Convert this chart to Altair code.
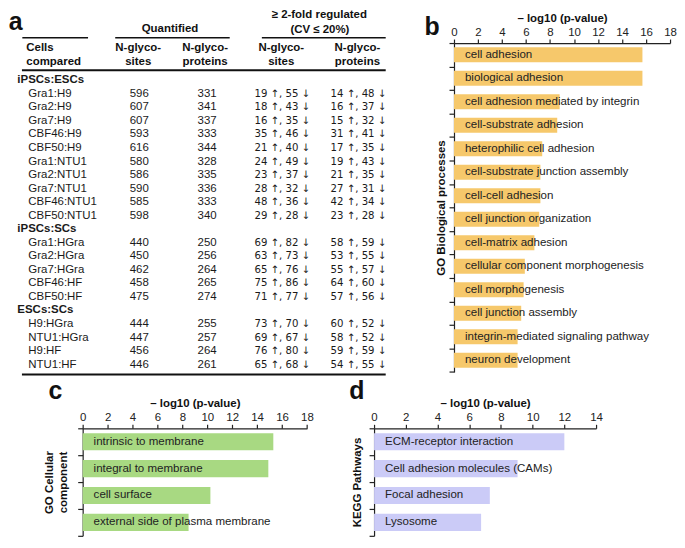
import altair as alt
import pandas as pd

FONT = "Liberation Sans"
TXT = "#1a1a1a"

# ---------------- Panel a: table ----------------
groups = ["iPSCs:ESCs", "iPSCs:SCs", "ESCs:SCs"]
group_sizes = [10, 5, 4]
pairs = ["Gra1:H9", "Gra2:H9", "Gra7:H9", "CBF46:H9", "CBF50:H9",
         "Gra1:NTU1", "Gra2:NTU1", "Gra7:NTU1", "CBF46:NTU1", "CBF50:NTU1",
         "Gra1:HGra", "Gra2:HGra", "Gra7:HGra", "CBF46:HF", "CBF50:HF",
         "H9:HGra", "NTU1:HGra", "H9:HF", "NTU1:HF"]
sites = [596, 607, 607, 593, 616, 580, 586, 590, 585, 598,
         440, 450, 462, 458, 475, 444, 447, 456, 446]
proteins = [331, 341, 337, 333, 344, 328, 335, 336, 333, 340,
            250, 256, 264, 265, 274, 255, 257, 264, 261]
site_up = [19, 18, 16, 35, 21, 24, 23, 28, 48, 29, 69, 63, 65, 75, 71, 73, 69, 76, 65]
site_down = [55, 43, 35, 46, 40, 49, 37, 32, 36, 28, 82, 73, 76, 86, 77, 70, 67, 80, 68]
prot_up = [14, 16, 15, 31, 17, 19, 21, 27, 42, 23, 58, 53, 55, 64, 57, 60, 58, 59, 54]
prot_down = [48, 37, 32, 41, 35, 43, 35, 31, 34, 28, 59, 55, 57, 60, 56, 52, 52, 59, 55]

# ---------------- Panels b, c, d ----------------
bp_terms = ["cell adhesion", "biological adhesion", "cell adhesion mediated by integrin",
            "cell-substrate adhesion", "heterophilic cell adhesion",
            "cell-substrate junction assembly", "cell-cell adhesion",
            "cell junction organization", "cell-matrix adhesion",
            "cellular component morphogenesis", "cell morphogenesis",
            "cell junction assembly", "integrin-mediated signaling pathway",
            "neuron development"]
bp_vals = [15.7, 15.7, 8.8, 8.6, 7.35, 7.2, 7.2, 7.1, 6.7, 5.9, 5.8, 5.6, 5.3, 5.3]

cc_terms = ["intrinsic to membrane", "integral to membrane", "cell surface",
            "external side of plasma membrane"]
cc_vals = [15.3, 14.9, 10.25, 8.5]

kegg_terms = ["ECM-receptor interaction", "Cell adhesion molecules (CAMs)",
              "Focal adhesion", "Lysosome"]
kegg_vals = [12.0, 9.05, 7.3, 6.75]

# ---------------- table construction ----------------
group_rows, group_idx = [], []
data_rows = []
r = 0
k = 0
for g, n in zip(groups, group_sizes):
    group_rows.append(g)
    group_idx.append(r)
    r += 1
    for _ in range(n):
        data_rows.append({
            "row": r,
            "pair": pairs[k],
            "sites": str(sites[k]),
            "proteins": str(proteins[k]),
            "rsites": f"{site_up[k]} \u2191, {site_down[k]} \u2193",
            "rproteins": f"{prot_up[k]} \u2191, {prot_down[k]} \u2193",
        })
        k += 1
        r += 1
body = pd.DataFrame(data_rows)
gdf = pd.DataFrame({"row": group_idx, "g": group_rows})

TW = 372.7   # table cell width: b plot starts right after it
TH = 330.4
yscale = alt.Scale(domain=[0, 21], range=[37.5, 323])


def col(df, field, xpx, align="center", bold=False, font=FONT, size=11.5):
    return alt.Chart(df).mark_text(
        align=align, baseline="middle", font=font, fontSize=size,
        fontWeight="bold" if bold else "normal", color=TXT
    ).encode(x=alt.value(xpx), y=alt.Y("row:Q", scale=yscale, axis=None),
             text=f"{field}:N")


def label(text, xpx, ypx, align="center", size=11.5, bold=True, baseline="middle"):
    return alt.Chart(pd.DataFrame({"t": [text]})).mark_text(
        align=align, baseline=baseline, font=FONT, fontSize=size,
        fontWeight="bold" if bold else "normal", color="#111"
    ).encode(x=alt.value(xpx), y=alt.value(ypx), text="t:N")


def hline(x1, x2, ypx, w):
    return alt.Chart(pd.DataFrame({"t": [0]})).mark_rule(
        color="#111", strokeWidth=w
    ).encode(x=alt.value(x1), x2=alt.value(x2), y=alt.value(ypx))


C1, C2, C3, C4 = 56.8, 125.0, 200.5, 277.0
table = alt.layer(
    label("a", -67.3, -13, size=25, baseline="alphabetic"),
    label("\u2265 2-fold regulated", 237.7, -28),
    label("(CV \u2264 20%)", 238.3, -13),
    label("Quantified", 87.7, -14),
    label("Cells", -56.6, 5, align="left"),
    label("compared", -56.6, 19.3, align="left"),
    label("N-glyco-", C1 - 1, 5), label("sites", C1 - 1, 19.3),
    label("N-glyco-", C2 - 2, 5), label("proteins", C2 - 2, 19.3),
    label("N-glyco-", C3 - 1, 5), label("sites", C3 - 1, 19.3),
    label("N-glyco-", C4 - 1, 5), label("proteins", C4 - 1, 19.3),
    hline(-60.6, 5.4, -5.3, 1.5),
    hline(32.7, 147.7, -5.3, 1.5),
    hline(180.0, 304.4, -5.3, 1.5),
    hline(-61, 304.4, 27.3, 2),
    hline(-61, 304.4, 333, 2),
    col(gdf, "g", -65.6, align="left", bold=True),
    col(body, "pair", -54.6, align="left"),
    col(body, "sites", C1),
    col(body, "proteins", C2),
    col(body, "rsites", C3, font="DejaVu Sans", size=10.2),
    col(body, "rproteins", C4, font="DejaVu Sans", size=10.2),
).properties(width=TW, height=TH)


def bar_panel(terms, vals, color, xmax, width, height, ytitle, title_pad,
              letter, lx, ly):
    df = pd.DataFrame({"term": terms, "value": vals})
    y_enc = alt.Y(
        "term:N", sort=terms,
        scale=alt.Scale(paddingInner=0, paddingOuter=0),
        axis=alt.Axis(title=ytitle, labels=False, ticks=True, tickSize=5,
                      tickBand="extent", titlePadding=title_pad,
                      titleFontSize=11.5, titleFontWeight="bold",
                      titleFont=FONT, titleColor="#111"),
    )
    x_enc = alt.X(
        "value:Q", scale=alt.Scale(domain=[0, xmax], nice=False),
        axis=alt.Axis(orient="top", values=list(range(0, xmax + 1, 2)),
                      title="\u2013 log10 (p-value)", grid=False, tickSize=4,
                      labelPadding=2, titlePadding=3, labelFontSize=11.5,
                      labelFont=FONT, titleFont=FONT, titleFontSize=11.5,
                      titleFontWeight="bold", titleColor="#111",
                      labelColor="#222", labelOverlap=False, labelFlush=False),
    )
    bars = alt.Chart(df).mark_bar(
        color=color, height=alt.RelativeBandSize(0.64)
    ).encode(x=x_enc, y=y_enc)
    texts = alt.Chart(df).mark_text(
        align="left", baseline="middle", dx=11, font=FONT, fontSize=11.6,
        color="#222"
    ).encode(x=alt.value(0), y=alt.Y("term:N", sort=terms), text="term:N")
    let = label(letter, lx, ly, size=25, baseline="alphabetic")
    return alt.layer(bars, texts, let).properties(width=width, height=height)


b = bar_panel(bp_terms, bp_vals, "#F6C86B", 18, 217, TH,
              "GO Biological processes", 2, "b", -22, -8)
c = bar_panel(cc_terms, cc_vals, "#A8D982", 18, 225.3, 108,
              ["GO Cellular", "component"], 9, "c", -27.3, -29)
d = bar_panel(kegg_terms, kegg_vals, "#CBCBF7", 14, 223, 108,
              "KEGG Pathways", 6, "d", -17.3, -29)

top = alt.hconcat(table, b, spacing=0, bounds="flush")
bottom = alt.hconcat(c, d, spacing=66.7, bounds="flush")
chart = alt.vconcat(top, bottom, spacing=4).properties(
    padding=0
).configure_view(stroke=None).configure_axis(
    domainColor="#222", tickColor="#222", domainWidth=1.2, tickWidth=1.2
)

chart.save("out.html", embed_options={"renderer": "svg", "actions": False})
